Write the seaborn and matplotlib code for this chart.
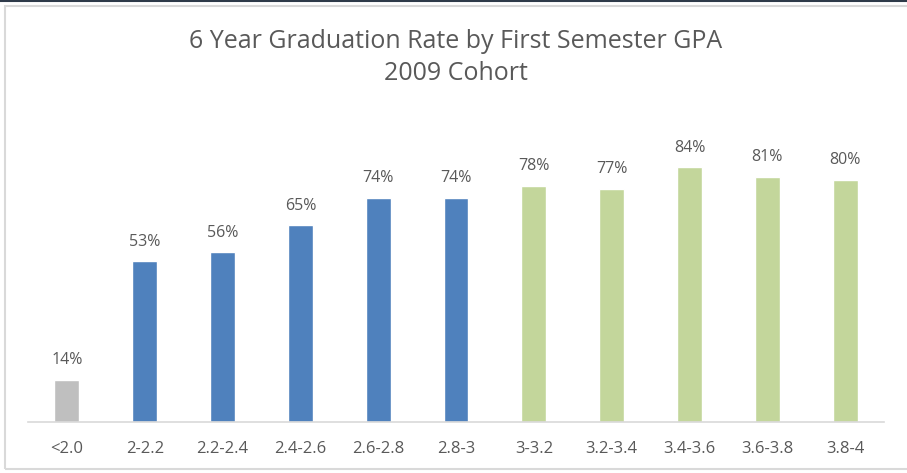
import matplotlib
matplotlib.use("Agg")
import matplotlib.pyplot as plt
import seaborn as sns
import pandas as pd
from matplotlib.patches import Rectangle
from matplotlib.lines import Line2D

# chart data
gpa_bins = ["<2.0", "2-2.2", "2.2-2.4", "2.4-2.6", "2.6-2.8", "2.8-3",
            "3-3.2", "3.2-3.4", "3.4-3.6", "3.6-3.8", "3.8-4"]
grad_rate = [14, 53, 56, 65, 74, 74, 78, 77, 84, 81, 80]
groups = ["low", "mid", "mid", "mid", "mid", "mid",
          "high", "high", "high", "high", "high"]
group_colors = {"low": "#BFBFBF", "mid": "#4F81BD", "high": "#C3D69B"}

df = pd.DataFrame({"gpa": gpa_bins, "rate": grad_rate, "group": groups})

sns.set_style("white")
plt.rcParams["font.family"] = ["Open Sans", "DejaVu Sans"]
text_col = "#595959"

fig = plt.figure(figsize=(9.07, 4.73), dpi=100)
ax = fig.add_axes([28 / 907, 51 / 473, 856 / 907, 303 / 473])

sns.barplot(data=df, x="gpa", y="rate", hue="group", palette=group_colors,
            dodge=False, width=0.32, legend=False, ax=ax, saturation=1)

for i, v in enumerate(grad_rate):
    ax.text(i, v + 3.8, f"{v}%", ha="center", va="bottom",
            fontsize=11.5, color=text_col)

ax.set_ylim(0, 100)
ax.set_xlim(-0.5, len(gpa_bins) - 0.5)
ax.set_yticks([])
ax.set_xlabel("")
ax.set_ylabel("")
for s in ["top", "left", "right"]:
    ax.spines[s].set_visible(False)
ax.spines["bottom"].set_color("#D9D9D9")
ax.spines["bottom"].set_linewidth(1.2)
ax.tick_params(axis="x", length=0, pad=14, labelsize=12, labelcolor=text_col)

fig.text(456 / 907, 1 - 41 / 473, "6 Year Graduation Rate by First Semester GPA",
         ha="center", va="center", fontsize=18, color=text_col)
fig.text(456 / 907, 1 - 73 / 473, "2009 Cohort",
         ha="center", va="center", fontsize=18, color=text_col)

# outer frame
fig.patches.append(Rectangle((5 / 907, 4 / 473), 920 / 907, 463 / 473,
                             transform=fig.transFigure, fill=False,
                             edgecolor="#D9D9D9", linewidth=1.5))
fig.lines.append(Line2D([0, 1], [1 - 1.5 / 473, 1 - 1.5 / 473],
                        transform=fig.transFigure, color="#2F3B4A", linewidth=1.5))

fig.savefig("out.png", dpi=100)
